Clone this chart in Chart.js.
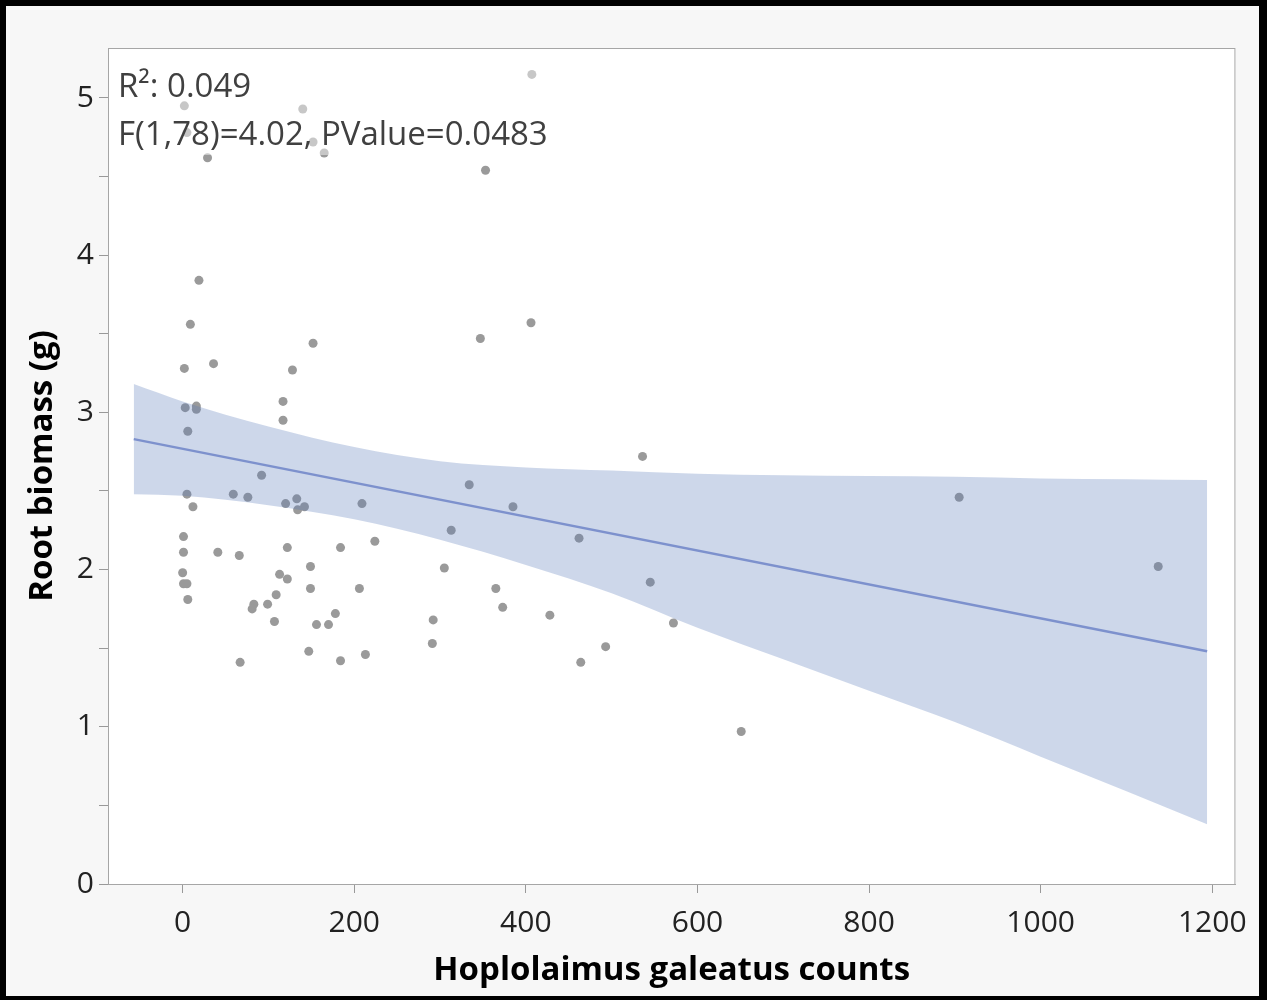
<!DOCTYPE html>
<html>
<head>
<meta charset="utf-8">
<script src="https://cdn.jsdelivr.net/npm/chart.js@4"></script>
<style>
  html, body { margin: 0; padding: 0; background: #000; }
  #wrap { position: absolute; left: 6px; top: 6px; width: 1253px; height: 990px; background: #f7f7f7; }
</style>
</head>
<body>
<div id="wrap"><canvas id="chart" width="1253" height="990"></canvas></div>
<script>
// nematode counts vs root biomass
const counts = [2, 5, 29, 140, 152, 165, 407, 353,
  19, 9, 36, 2, 3, 16, 16, 6, 152, 128, 117, 117,
  92, 5, 12, 59, 76, 120, 133, 134, 142, 209,
  1, 1, 41, 66, 122, 184, 224, 149, 0, 1, 5, 6,
  113, 122, 149, 206, 109, 83, 81, 99, 107, 178, 156, 170, 147, 184, 213, 67,
  406, 347, 536, 334, 385, 313, 462, 305, 545, 365, 373, 428, 572, 292, 291, 493, 464,
  651, 905, 1137];
const biomass = [4.95, 4.78, 4.62, 4.93, 4.72, 4.65, 5.15, 4.54,
  3.84, 3.56, 3.31, 3.28, 3.03, 3.04, 3.02, 2.88, 3.44, 3.27, 3.07, 2.95,
  2.60, 2.48, 2.40, 2.48, 2.46, 2.42, 2.45, 2.38, 2.40, 2.42,
  2.21, 2.11, 2.11, 2.09, 2.14, 2.14, 2.18, 2.02, 1.98, 1.91, 1.91, 1.81,
  1.97, 1.94, 1.88, 1.88, 1.84, 1.78, 1.75, 1.78, 1.67, 1.72, 1.65, 1.65, 1.48, 1.42, 1.46, 1.41,
  3.57, 3.47, 2.72, 2.54, 2.40, 2.25, 2.20, 2.01, 1.92, 1.88, 1.76, 1.71, 1.66, 1.68, 1.53, 1.51, 1.41,
  0.97, 2.46, 2.02];

// fitted line and its confidence band
const fitX = [-57, 1194];
const fitY = [2.83, 1.48];
const bandX = [-57, 0, 100, 200, 300, 400, 500, 600, 700, 800, 900, 1000, 1100, 1194];
const bandUpper = [3.18, 3.07, 2.91, 2.78, 2.69, 2.65, 2.63, 2.61, 2.60, 2.595, 2.59, 2.58, 2.575, 2.57];
const bandLower = [2.48, 2.47, 2.41, 2.32, 2.19, 2.03, 1.85, 1.63, 1.43, 1.23, 1.03, 0.81, 0.59, 0.38];

const xTicks = [0, 200, 400, 600, 800, 1000, 1200];
const yTicks = [0, 0.5, 1, 1.5, 2, 2.5, 3, 3.5, 4, 4.5, 5];
const statLines = ['R\u00b2: 0.049', 'F(1,78)=4.02, PValue=0.0483'];

const font = '"Open Sans", "Noto Sans", sans-serif';

const plotFrame = {
  id: 'plotFrame',
  beforeDraw(chart) {
    const {ctx, chartArea: a} = chart;
    ctx.save();
    ctx.fillStyle = '#fff';
    ctx.fillRect(a.left, a.top, a.right - a.left, a.bottom - a.top);
    ctx.restore();
  },
  afterDatasetsDraw(chart) {
    const {ctx, chartArea: a} = chart;
    ctx.save();
    // the stats text sits on a half-clear white box
    ctx.fillStyle = 'rgba(255,255,255,0.45)';
    ctx.fillRect(a.left + 1, a.top + 1, 446, 106);
    ctx.fillStyle = '#404040';
    ctx.font = '33px ' + font;
    ctx.textBaseline = 'middle';
    ctx.fillText(statLines[0], a.left + 10, a.top + 40);
    ctx.fillText(statLines[1], a.left + 10, a.top + 88);
    ctx.strokeStyle = '#a6a6a6';
    ctx.lineWidth = 1;
    ctx.strokeRect(a.left + 0.5, a.top + 0.5, a.right - a.left - 1, a.bottom - a.top);
    ctx.restore();
  }
};

new Chart('chart', {
  type: 'scatter',
  data: {
    datasets: [
      {
        label: 'points',
        data: counts.map((c, i) => ({x: c, y: biomass[i]})),
        backgroundColor: 'rgb(154,154,154)',
        borderWidth: 0,
        pointRadius: 4.5,
        order: 4
      },
      {
        label: 'lower',
        type: 'line',
        data: bandX.map((x, i) => ({x: x, y: bandLower[i]})),
        borderWidth: 0,
        pointRadius: 0,
        cubicInterpolationMode: 'monotone',
        fill: false,
        order: 3
      },
      {
        label: 'upper',
        type: 'line',
        data: bandX.map((x, i) => ({x: x, y: bandUpper[i]})),
        borderWidth: 0,
        pointRadius: 0,
        cubicInterpolationMode: 'monotone',
        fill: '-1',
        backgroundColor: 'rgba(90,122,185,0.3)',
        order: 2
      },
      {
        label: 'fit',
        type: 'line',
        data: fitX.map((x, i) => ({x: x, y: fitY[i]})),
        borderColor: 'rgb(125,145,205)',
        borderWidth: 2.5,
        pointRadius: 0,
        fill: false,
        order: 1
      }
    ]
  },
  options: {
    responsive: false,
    animation: false,
    layout: { padding: { top: 42, right: 21, left: 0, bottom: 0 } },
    plugins: {
      legend: { display: false },
      tooltip: { enabled: false },
      filler: { drawTime: 'beforeDatasetDraw' }
    },
    scales: {
      x: {
        type: 'linear',
        min: -87,
        max: 1227,
        afterBuildTicks: s => { s.ticks = xTicks.map(v => ({value: v})); },
        afterFit: s => { s.height = 112; },
        grid: { drawOnChartArea: false, tickLength: 9, tickColor: '#999' },
        border: { color: '#a6a6a6' },
        ticks: {
          color: '#222',
          font: { family: font, size: 30 },
          padding: 12,
          maxRotation: 0,
          autoSkip: false,
          callback: v => String(v)
        },
        title: {
          display: true,
          text: 'Hoplolaimus galeatus counts',
          color: '#000',
          font: { family: font, size: 33, weight: 'bold' },
          padding: { top: 0, bottom: 6 }
        }
      },
      y: {
        type: 'linear',
        min: 0,
        max: 5.318,
        afterBuildTicks: s => { s.ticks = yTicks.map(v => ({value: v})); },
        afterFit: s => { s.width = 102; },
        grid: { drawOnChartArea: false, tickLength: 9, tickColor: '#999' },
        border: { color: '#a6a6a6' },
        ticks: {
          color: '#222',
          font: { family: font, size: 30 },
          padding: 5,
          autoSkip: false,
          callback: v => (v % 1 === 0 ? String(v) : '')
        },
        title: {
          display: true,
          text: 'Root biomass (g)',
          color: '#000',
          font: { family: font, size: 33, weight: 'bold' },
          padding: { top: 17, bottom: 0 }
        }
      }
    }
  },
  plugins: [plotFrame]
});
</script>
</body>
</html>
